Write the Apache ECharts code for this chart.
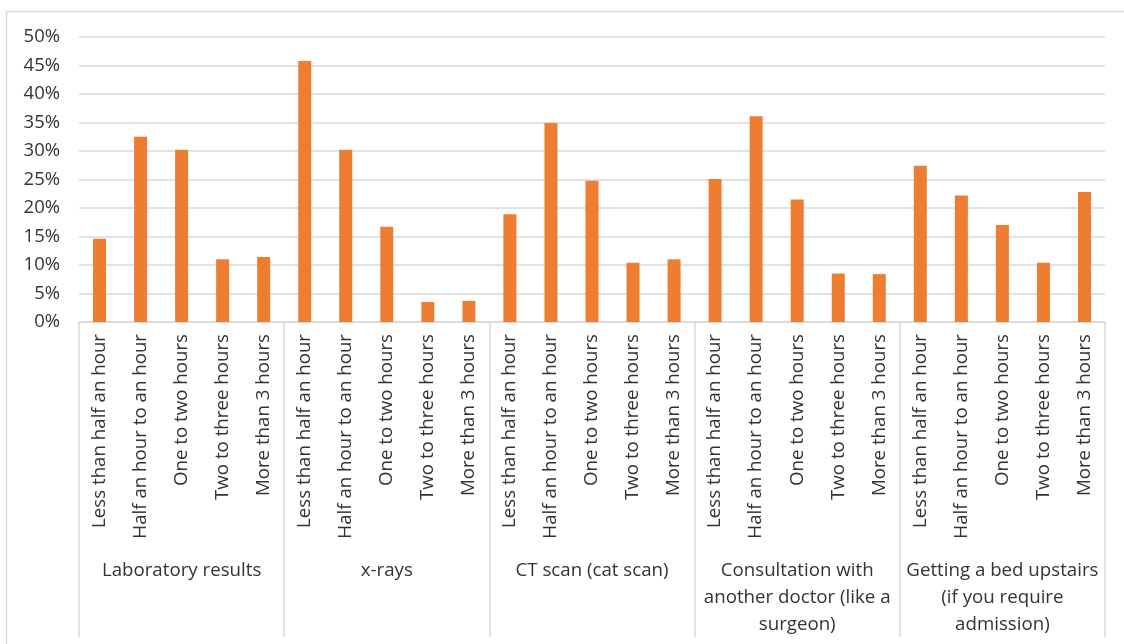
<!DOCTYPE html>
<html>
<head>
<meta charset="utf-8">
<script src="https://cdn.jsdelivr.net/npm/echarts@6/dist/echarts.min.js"></script>
<style>
  html, body { margin: 0; padding: 0; background: #fff; }
  #chart { width: 1124px; height: 644px; }
</style>
</head>
<body>
<div id="chart"></div>
<script>
// Waiting-time answers, repeated for every service group
const waitTimes = [
  'Less than half an hour',
  'Half an hour to an hour',
  'One to two hours',
  'Two to three hours',
  'More than 3 hours'
];

// Service groups (second level of the category axis)
const groups = [
  'Laboratory results',
  'x-rays',
  'CT scan (cat scan)',
  'Consultation with\nanother doctor (like a\nsurgeon)',
  'Getting a bed upstairs\n(if you require\nadmission)'
];

// Share of respondents (%) per waiting time, one array per group
const laboratory   = [14.6, 32.5, 30.2, 11.0, 11.4];
const xrays        = [45.8, 30.2, 16.7, 3.5, 3.7];
const ctScan       = [18.9, 34.9, 24.8, 10.4, 11.0];
const consultation = [25.1, 36.1, 21.5, 8.5, 8.4];
const bedUpstairs  = [27.4, 22.2, 17.0, 10.4, 22.8];

// Value axis ticks
const yMin = 0;
const yMax = 50;
const yStep = 5;

const categories = groups.flatMap(() => waitTimes);
const values = [].concat(laboratory, xrays, ctScan, consultation, bedUpstairs);

const FONT = '"Open Sans", "Noto Sans", sans-serif';
const TEXT = '#333333';
const LINE = '#d9d9d9';

const chart = echarts.init(document.getElementById('chart'), null, { renderer: 'canvas' });

chart.setOption({
  animation: false,
  backgroundColor: '#ffffff',
  textStyle: { fontFamily: FONT },
  grid: {
    left: 79, right: 19, top: 37, bottom: 322,
    containLabel: false,
    outerBoundsMode: 'none'
  },
  graphic: [{
    type: 'rect',
    shape: { x: 6.5, y: 11.5, width: 1140, height: 660 },
    style: { fill: 'none', stroke: LINE, lineWidth: 1.5 },
    silent: true,
    z: -10
  }],
  xAxis: [
    {
      type: 'category',
      data: categories,
      position: 'bottom',
      axisLine: { show: true, lineStyle: { color: LINE, width: 1.5 } },
      axisTick: { show: false },
      axisLabel: {
        interval: 0,
        rotate: 90,
        margin: 12,
        fontFamily: FONT,
        fontSize: 18.7,
        color: TEXT
      },
      splitLine: { show: false }
    },
    {
      type: 'category',
      data: groups,
      position: 'bottom',
      axisLine: { show: false },
      axisTick: {
        show: true,
        interval: 0,
        alignWithLabel: false,
        length: 315,
        lineStyle: { color: LINE, width: 1.5 }
      },
      axisLabel: {
        interval: 0,
        margin: 235,
        fontFamily: FONT,
        fontSize: 18.7,
        lineHeight: 27,
        align: 'center',
        color: TEXT
      },
      splitLine: { show: false }
    }
  ],
  yAxis: {
    type: 'value',
    min: yMin,
    max: yMax,
    interval: yStep,
    axisLine: { show: false },
    axisTick: { show: false },
    axisLabel: {
      formatter: '{value}%',
      margin: 19,
      fontFamily: FONT,
      fontSize: 18.5,
      color: TEXT
    },
    splitLine: { show: true, lineStyle: { color: LINE, width: 1.5 } }
  },
  series: [{
    type: 'bar',
    xAxisIndex: 0,
    data: values,
    barWidth: 13,
    itemStyle: { color: '#ED7D31' },
    z: 3
  }]
});
</script>
</body>
</html>
